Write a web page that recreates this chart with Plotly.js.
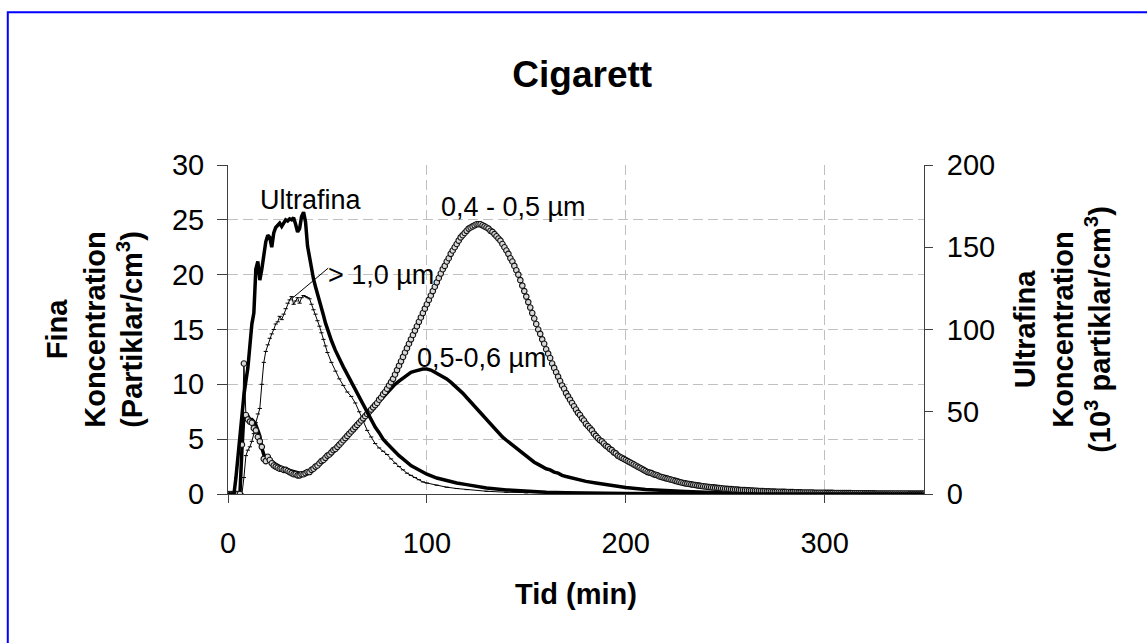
<!DOCTYPE html>
<html>
<head>
<meta charset="utf-8">
<script src="https://cdn.plot.ly/plotly-3.0.1.min.js"></script>
<style>html,body{margin:0;padding:0;background:#fff;}#chart{width:1147px;height:643px;}</style>
</head>
<body>
<div id="chart"></div>
<script>
// ---- DATA ----
// Time axis ticks / value-axis ticks
const xTicks = [0, 100, 200, 300];
const yTicks = [0, 5, 10, 15, 20, 25, 30];
const y2Ticks = [0, 50, 100, 150, 200];

// 0,4 - 0,5 µm (Fina, left axis) – one reading per minute from t = 0 to 350
const fina04_05_start = 0;
const fina04_05_step = 1;
const fina04_05 = [
  0,0,0,0,0,0,0,4.5,11.9,7.2,
  6.8,6.6,6.5,6.0,5.8,5.2,4.8,4.3,3.2,3.0,
  3.4,3.1,2.8,2.6,2.5,2.4,2.3,2.3,2.2,2.2,
  2.1,2.0,1.9,1.8,1.8,1.7,1.7,1.8,1.8,1.9,
  2.0,2.0,2.2,2.3,2.5,2.6,2.8,3.0,3.1,3.3,
  3.5,3.6,3.8,4.0,4.1,4.3,4.5,4.7,4.9,5.1,
  5.3,5.5,5.7,5.9,6.1,6.3,6.5,6.7,6.9,7.1,
  7.3,7.5,7.7,7.9,8.1,8.3,8.6,8.8,9.1,9.3,
  9.6,9.9,10.2,10.5,10.9,11.3,11.7,12.1,12.5,12.9,
  13.3,13.7,14.1,14.5,14.9,15.3,15.7,16.1,16.5,16.9,
  17.3,17.7,18.1,18.5,18.9,19.3,19.7,20.1,20.5,20.8,
  21.2,21.5,21.9,22.2,22.5,22.8,23.1,23.4,23.6,23.8,
  24.0,24.2,24.3,24.4,24.5,24.6,24.6,24.6,24.5,24.4,
  24.3,24.2,24.0,23.9,23.7,23.5,23.3,23.1,22.8,22.5,
  22.2,21.9,21.5,21.2,20.8,20.4,20.0,19.5,19.0,18.5,
  18.0,17.5,17.0,16.5,16.0,15.5,15.0,14.6,14.1,13.7,
  13.2,12.8,12.4,11.9,11.5,11.1,10.7,10.3,9.9,9.6,
  9.2,8.9,8.6,8.3,8.0,7.7,7.4,7.2,6.9,6.7,
  6.4,6.2,6.0,5.8,5.5,5.3,5.1,4.9,4.8,4.6,
  4.4,4.3,4.1,4.0,3.8,3.7,3.5,3.4,3.3,3.2,
  3.1,3.0,2.9,2.8,2.7,2.6,2.5,2.4,2.3,2.2,
  2.1,2.0,1.95,1.9,1.8,1.75,1.7,1.6,1.55,1.5,
  1.45,1.4,1.35,1.3,1.25,1.2,1.15,1.1,1.05,1.0,
  0.97,0.94,0.91,0.88,0.85,0.82,0.79,0.76,0.73,0.71,
  0.68,0.66,0.64,0.62,0.6,0.58,0.56,0.54,0.52,0.5,
  0.48,0.47,0.45,0.44,0.42,0.41,0.4,0.38,0.37,0.36,
  0.35,0.34,0.33,0.32,0.31,0.3,0.29,0.28,0.27,0.26,
  0.25,0.24,0.24,0.23,0.22,0.22,0.21,0.2,0.2,0.19,
  0.19,0.18,0.18,0.17,0.17,0.16,0.16,0.15,0.15,0.14,
  0.14,0.14,0.13,0.13,0.13,0.12,0.12,0.12,0.11,0.11,
  0.11,0.1,0.1,0.1,0.1,0.09,0.09,0.09,0.09,0.08,
  0.08,0.08,0.08,0.08,0.07,0.07,0.07,0.07,0.07,0.07,
  0.06,0.06,0.06,0.06,0.06,0.06,0.05,0.05,0.05,0.05,
  0.05,0.05,0.05,0.05,0.04,0.04,0.04,0.04,0.04,0.04,
  0.04,0.04,0.04,0.03,0.03,0.03,0.03,0.03,0.03,0.03,0.03
];

// 0,5-0,6 µm (Fina, left axis)
const tid05_06 = [0,2,4,6,7,8,9,10,11,12,13,14,15,16,17,18,19,20,
  22,24,26,28,30,32,34,36,38,40,42,44,46,48,50,52,54,56,58,60,62,64,66,68,70,
  72,74,76,78,80,82,84,86,88,90,92,94,96,98,100,102,104,106,108,110,112,114,116,118,120,
  122,124,126,128,130,132,134,136,138,140,142,144,146,148,150,152,154,156,158,160,162,164,166,168,170,
  175,180,185,190,195,200,210,220,230,240,250,260,280,300,325,350];
const fina05_06 = [0,0,0,0,4.0,7.3,7.0,7.1,6.8,6.8,6.6,6.3,5.8,5.3,4.2,3.6,3.3,3.2,
  3.0,2.7,2.5,2.3,2.2,2.1,2.0,1.9,1.9,2.0,2.2,2.5,2.8,3.1,3.5,3.8,4.1,4.5,4.9,5.3,5.7,6.1,6.5,6.9,7.3,
  7.7,8.1,8.5,8.9,9.3,9.7,10.0,10.3,10.6,10.9,11.1,11.2,11.3,11.4,11.4,11.3,11.1,10.9,10.7,10.5,10.2,9.9,9.5,9.2,8.8,
  8.4,8.0,7.5,7.1,6.7,6.3,5.9,5.6,5.2,4.9,4.6,4.3,4.0,3.7,3.4,3.2,2.9,2.7,2.5,2.3,2.2,2.0,1.9,1.7,1.6,
  1.35,1.15,1.0,0.85,0.72,0.6,0.42,0.3,0.22,0.16,0.12,0.09,0.05,0.03,0.02,0.01];

// > 1,0 µm (Fina, left axis)
const tidOver1 = [0,2,4,6,7,8,9,10,11,12,13,14,15,16,17,18,19,20,21,22,23,24,25,26,27,28,29,30,
  31,32,33,34,35,36,37,38,39,40,41,42,43,44,45,46,47,48,49,50,
  52,54,56,58,60,62,64,66,68,70,72,74,76,78,80,82,84,86,88,90,92,94,96,98,100,
  105,110,115,120,130,140,150,170,200,250,300,350];
const finaOver1 = [0,0,0,0,0,1.5,3.5,4.0,4.3,4.8,5.5,6.5,7.3,7.8,10.0,12.0,13.0,13.6,14.2,14.6,15.0,15.5,15.7,16.2,15.9,16.4,16.9,17.4,
  17.7,18.0,17.3,17.6,17.9,17.4,17.9,18.1,18.0,17.9,17.8,17.3,16.8,16.4,15.8,15.3,14.7,14.1,13.5,12.9,
  12.0,11.2,10.5,9.9,9.3,8.9,8.3,7.5,6.6,5.8,5.2,4.6,4.2,3.9,3.6,3.2,2.8,2.5,2.2,1.9,1.7,1.5,1.3,1.1,1.0,
  0.8,0.62,0.5,0.4,0.25,0.16,0.1,0.05,0.02,0,0,0];

// Ultrafina (right axis, 10^3 partiklar/cm3)
const tidUltra = [0,1,2,3,4,5,6,7,8,9,10,11,12,13,14,15,16,17,18,19,20,21,22,23,24,25,26,27,28,29,30,
  31,32,33,34,35,36,37,38,39,40,41,42,43,44,45,46,47,48,49,50,
  52,54,56,58,60,62,64,66,68,70,72,74,76,78,80,82,84,86,88,90,92,94,96,98,100,
  105,110,115,120,125,130,140,150,160,170,180,200,250,300,350];
const ultrafina = [0,0,0,0,10,23.3,36.7,50,60,68.7,76.7,90,103.3,110,136.7,141.3,130,136.7,146.7,153.3,157.3,156,150,158.7,
  162,163.3,164.7,162.7,165.3,166.7,166,167.3,166.7,168,164,159.3,161.3,168.7,171.3,165.3,150.7,143.3,137.3,130.7,
  126,122,117.3,113.3,108.7,104,100,
  93.3,87.3,82,77.3,72.7,68,63.3,58.7,54,49.3,45.3,40.7,37.3,33.3,30.7,28,25.3,23.3,21.3,19.3,17.3,16,14.7,13.3,12,
  9.7,8,6.7,5.7,4.7,3.7,2.5,1.7,1.1,0.8,0.5,0.3,0.07,0,0];

// Series labels (label position in data units: [time, left-axis value])
const labels = {
  ultra: 'Ultrafina',
  f0405: '0,4 - 0,5 µm',
  f0506: '0,5-0,6 µm',
  over1: '> 1,0 µm'
};

// ---- CHART ----
const FONT = '"Liberation Sans", Arial, Helvetica, sans-serif';

const traces = [
  {
    type: 'scatter', mode: 'lines', name: labels.ultra,
    x: tidUltra, y: ultrafina, yaxis: 'y2',
    line: {color: '#000', width: 3.5}
  },
  {
    type: 'scatter', mode: 'lines+markers', name: labels.over1,
    x: tidOver1, y: finaOver1,
    line: {color: '#000', width: 1},
    marker: {symbol: 'line-ew', size: 3, color: '#000', line: {color: '#000', width: 1}}
  },
  {
    type: 'scatter', mode: 'lines', name: labels.f0506,
    x: tid05_06, y: fina05_06,
    line: {color: '#000', width: 3.5}
  },
  {
    type: 'scatter', mode: 'lines+markers', name: labels.f0405,
    x0: fina04_05_start, dx: fina04_05_step, y: fina04_05,
    line: {color: '#000', width: 1},
    marker: {symbol: 'circle', size: 5.5, color: '#d8d8d8', line: {color: '#111', width: 1.1}}
  }
];

const axisCommon = {
  showline: true, linecolor: '#404040', linewidth: 1,
  ticks: 'outside', tickcolor: '#404040', tickwidth: 1,
  zeroline: false, tickfont: {family: FONT, size: 29, color: '#000'},
  fixedrange: true
};

const layout = {
  width: 1147, height: 643, autosize: false,
  margin: {l: 228, r: 223, t: 165, b: 149, pad: 0},
  paper_bgcolor: '#fff', plot_bgcolor: '#fff',
  font: {family: FONT, color: '#000', size: 28},
  showlegend: false,
  title: {
    text: '<b>Cigarett</b>', font: {family: FONT, size: 37, color: '#000'},
    xref: 'paper', x: 0.509, xanchor: 'center',
    yref: 'container', y: 1 - 74/643, yanchor: 'middle'
  },
  xaxis: Object.assign({}, axisCommon, {
    range: [0, 350], tickmode: 'array', tickvals: xTicks,
    showgrid: true, gridcolor: '#c0c0c0', griddash: '10px,5px', gridwidth: 1,
    ticklen: 8, ticklabelstandoff: 15,
    title: {text: '<b>Tid (min)</b>', font: {family: FONT, size: 29, color: '#000'}, standoff: 25}
  }),
  yaxis: Object.assign({}, axisCommon, {
    range: [0, 30], tickmode: 'array', tickvals: yTicks,
    showgrid: true, gridcolor: '#c0c0c0', griddash: '10px,5px', gridwidth: 1,
    ticklen: 10, ticklabelstandoff: 7,
    title: {text: '<b>Fina<br>Koncentration<br>(Partiklar/cm<sup>3</sup>)</b>', font: {family: FONT, size: 29, color: '#000'}, standoff: 20}
  }),
  yaxis2: Object.assign({}, axisCommon, {
    range: [0, 200], tickmode: 'array', tickvals: y2Ticks,
    overlaying: 'y', side: 'right', showgrid: false,
    ticklen: 8, ticklabelstandoff: 8,
    title: {text: '<b>Ultrafina<br>Koncentration<br>(10<sup>3</sup> partiklar/cm<sup>3</sup>)</b>', font: {family: FONT, size: 29, color: '#000'}, standoff: 20}
  }),
  annotations: [
    {xref: 'x', yref: 'y', x: 41.6, y: 26.8, text: labels.ultra, showarrow: false, font: {family: FONT, size: 27, color: '#000'}},
    {xref: 'x', yref: 'y', x: 143.4, y: 26.2, text: labels.f0405, showarrow: false, font: {family: FONT, size: 27, color: '#000'}},
    {xref: 'x', yref: 'y', x: 127.5, y: 12.4, text: labels.f0506, showarrow: false, font: {family: FONT, size: 27, color: '#000'}},
    {xref: 'x', yref: 'y', x: 77, y: 20.0, text: labels.over1, showarrow: false, font: {family: FONT, size: 27, color: '#000'}}
  ],
  shapes: [
    // leader line of the "> 1,0 µm" callout
    {type: 'line', xref: 'x', yref: 'y', x0: 32, y0: 17.8, x1: 50.4, y1: 20.6,
     line: {color: '#000', width: 1}},
    // blue chart-area frame
    {type: 'rect', xref: 'paper', yref: 'paper', x0: -0.3164, x1: 1.36, y0: -0.52, y1: 1.4644,
     line: {color: '#0000ff', width: 2}, fillcolor: 'rgba(0,0,0,0)', layer: 'above'}
  ]
};

Plotly.newPlot('chart', traces, layout, {staticPlot: true, displayModeBar: false});
</script>
</body>
</html>
